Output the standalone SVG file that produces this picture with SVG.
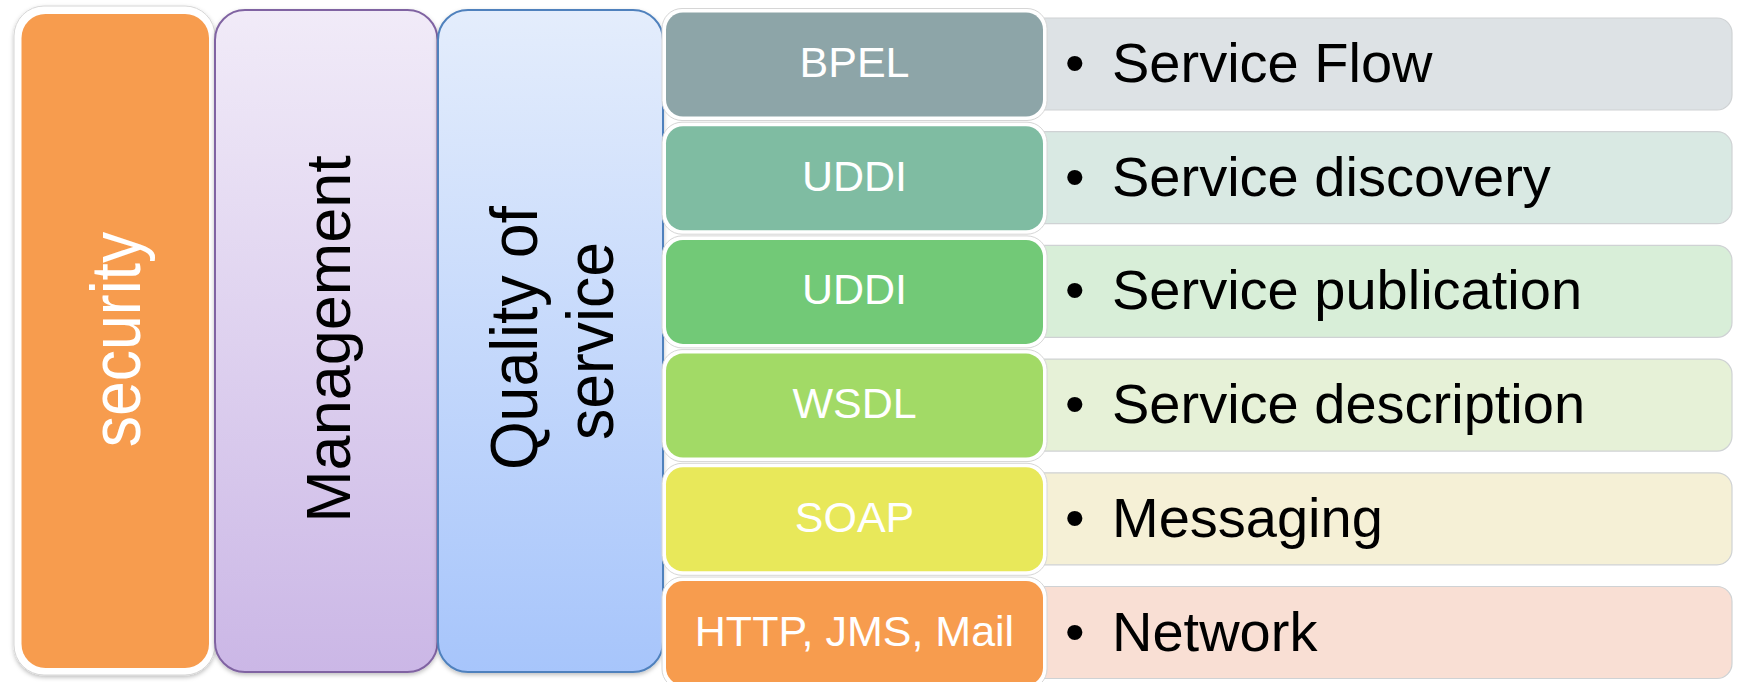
<svg xmlns="http://www.w3.org/2000/svg" width="1737" height="682" viewBox="0 0 1737 682">
<style>
.lbl{font-family:"Liberation Sans",Arial,sans-serif;font-size:43px;fill:#fff;text-anchor:middle}
.itm{font-family:"Liberation Sans",Arial,sans-serif;font-size:56px;fill:#000}
.vt{font-family:"Liberation Sans",Arial,sans-serif;text-anchor:middle}
.frame{fill:#fff;stroke:#d6d6d6;stroke-width:1}
.tb{stroke:#cfd2d4;stroke-width:1.2}
</style>
<defs>
<linearGradient id="gMan" x1="0" y1="0" x2="0" y2="1">
<stop offset="0" stop-color="#f1ebf8"/><stop offset="1" stop-color="#cbb7e6"/>
</linearGradient>
<linearGradient id="gQos" x1="0" y1="0" x2="0" y2="1">
<stop offset="0" stop-color="#e4edfc"/><stop offset="1" stop-color="#a7c5fb"/>
</linearGradient>
<filter id="sh" x="-10%" y="-10%" width="120%" height="120%">
<feDropShadow dx="0" dy="2" stdDeviation="2" flood-color="#000" flood-opacity="0.25"/>
</filter>
</defs>

<g id="security">
<rect x="14" y="6" width="201" height="669" rx="30" class="frame" filter="url(#sh)"/>
<rect x="21.5" y="14" width="187.5" height="654" rx="24" fill="#f79c4e"/>
<text class="vt" font-size="62.5" fill="#fff" transform="translate(140,339.5) scale(1.14,1) rotate(-90)">security</text>
</g>

<g id="management">
<rect x="215" y="10" width="222.5" height="662" rx="30" fill="url(#gMan)" stroke="#8064a2" stroke-width="2" filter="url(#sh)"/>
<text class="vt" font-size="63" fill="#000" transform="translate(350,339) rotate(-90)">Management</text>
</g>

<g id="quality">
<rect x="438" y="10" width="225" height="662" rx="30" fill="url(#gQos)" stroke="#4f81bd" stroke-width="2" filter="url(#sh)"/>
<text class="vt" font-size="62.5" fill="#000" transform="translate(537,338) scale(1.06,1) rotate(-90)">Quality of</text>
<text class="vt" font-size="62.5" fill="#000" transform="translate(613,341) scale(1.06,1) rotate(-90)">service</text>
</g>

<g id="row-bpel">
<rect x="1030" y="18" width="702" height="92" rx="15" fill="#dde2e5" class="tb"/>
<rect x="662" y="8.5" width="385" height="112" rx="20" class="frame"/>
<rect x="666" y="12.5" width="377" height="104" rx="17" fill="#8da5a8"/>
<text class="lbl" x="854.5" y="77">BPEL</text>
<text class="itm" x="1065" y="82">•</text>
<text class="itm" x="1112" y="82">Service Flow</text>
</g>

<g id="row-uddi-discovery">
<rect x="1030" y="131.7" width="702" height="92" rx="15" fill="#d9e9e3" class="tb"/>
<rect x="662" y="122.2" width="385" height="112" rx="20" class="frame"/>
<rect x="666" y="126.2" width="377" height="104" rx="17" fill="#7fbca2"/>
<text class="lbl" x="854.5" y="190.7">UDDI</text>
<text class="itm" x="1065" y="195.7">•</text>
<text class="itm" x="1112" y="195.7">Service discovery</text>
</g>

<g id="row-uddi-publication">
<rect x="1030" y="245.4" width="702" height="92" rx="15" fill="#d8eed8" class="tb"/>
<rect x="662" y="235.9" width="385" height="112" rx="20" class="frame"/>
<rect x="666" y="239.9" width="377" height="104" rx="17" fill="#72c977"/>
<text class="lbl" x="854.5" y="304.4">UDDI</text>
<text class="itm" x="1065" y="309.4">•</text>
<text class="itm" x="1112" y="309.4">Service publication</text>
</g>

<g id="row-wsdl">
<rect x="1030" y="359.1" width="702" height="92" rx="15" fill="#e6f1d7" class="tb"/>
<rect x="662" y="349.6" width="385" height="112" rx="20" class="frame"/>
<rect x="666" y="353.6" width="377" height="104" rx="17" fill="#a2da66"/>
<text class="lbl" x="854.5" y="418.1">WSDL</text>
<text class="itm" x="1065" y="423.1">•</text>
<text class="itm" x="1112" y="423.1">Service description</text>
</g>

<g id="row-soap">
<rect x="1030" y="472.8" width="702" height="92" rx="15" fill="#f5f0d6" class="tb"/>
<rect x="662" y="463.3" width="385" height="112" rx="20" class="frame"/>
<rect x="666" y="467.3" width="377" height="104" rx="17" fill="#e8e85a"/>
<text class="lbl" x="854.5" y="531.8">SOAP</text>
<text class="itm" x="1065" y="536.8">•</text>
<text class="itm" x="1112" y="536.8">Messaging</text>
</g>

<g id="row-http">
<rect x="1030" y="586.5" width="702" height="92" rx="15" fill="#f9dfd4" class="tb"/>
<rect x="662" y="577" width="385" height="112" rx="20" class="frame"/>
<rect x="666" y="581" width="377" height="104" rx="17" fill="#f79c4e"/>
<text class="lbl" x="854.5" y="645.5">HTTP, JMS, Mail</text>
<text class="itm" x="1065" y="650.5">•</text>
<text class="itm" x="1112" y="650.5">Network</text>
</g>

<g id="connectors"/>
</svg>
